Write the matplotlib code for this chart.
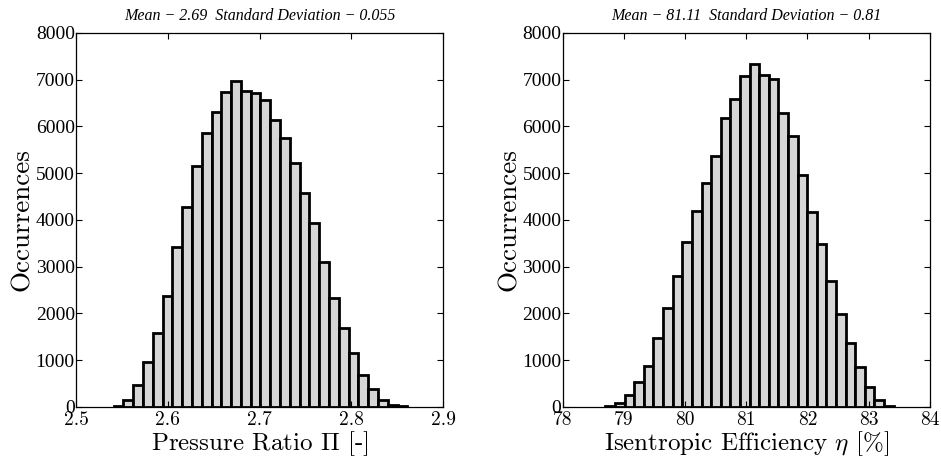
import numpy as np
import matplotlib
matplotlib.use("Agg")
from matplotlib import pyplot as plt
from matplotlib.ticker import MultipleLocator, FormatStrFormatter

plt.rcParams['mathtext.fontset'] = 'cm'
plt.rcParams['axes.unicode_minus'] = False

# histogram of pressure ratio (30 bins)
pr_range = (2.5407, 2.861)
pr_counts = [15, 150, 470, 955, 1590, 2375, 3430, 4270, 5155, 5855,
             6300, 6745, 6980, 6765, 6710, 6565, 6140, 5745, 5210, 4585,
             3930, 3110, 2325, 1680, 1150, 685, 380, 150, 45, 15]

# histogram of isentropic efficiency (30 bins)
eff_range = (78.698, 83.411)
eff_counts = [15, 80, 255, 540, 885, 1485, 2110, 2800, 3535, 4200,
              4785, 5370, 6175, 6580, 7080, 7330, 7100, 7010, 6295, 5795,
              4960, 4180, 3485, 2695, 1990, 1360, 860, 435, 150, 20]

pr_title = "Mean \u2212 2.69  Standard Deviation \u2212 0.055"
eff_title = "Mean \u2212 81.11  Standard Deviation \u2212 0.81"
pr_xlabel = r"Pressure Ratio $\Pi$ [-]"
eff_xlabel = r"Isentropic Efficiency $\eta$ [%]"
pr_xlim, pr_xstep, pr_fmt = (2.5, 2.9), 0.1, '%.1f'
eff_xlim, eff_xstep, eff_fmt = (78, 84), 1, '%d'


def draw_hist(ax, rng, counts, title, xlabel, xlim, xstep, fmt):
    edges = np.linspace(rng[0], rng[1], len(counts) + 1)
    ax.bar(edges[:-1], counts, width=np.diff(edges), align='edge',
           facecolor='#d6d6d6', edgecolor='black', linewidth=2)
    ax.set_xlim(*xlim)
    ax.set_ylim(0, 8000)
    ax.xaxis.set_major_locator(MultipleLocator(xstep))
    ax.xaxis.set_major_formatter(FormatStrFormatter(fmt))
    ax.yaxis.set_major_locator(MultipleLocator(1000))
    ax.tick_params(direction='in', top=True, right=True, length=4, width=0.8)
    ax.tick_params(axis='x', pad=3)
    ax.tick_params(axis='y', pad=1)
    for lab in ax.get_xticklabels():
        lab.set_fontfamily('cmr10')
        lab.set_fontsize(14)
    for lab in ax.get_yticklabels():
        lab.set_fontfamily('Liberation Serif')
        lab.set_fontsize(14)
    ax.set_title(title, fontsize=11.5, style='italic', family='Liberation Serif', pad=9)
    ax.set_xlabel(xlabel, fontsize=18, family='cmr10', labelpad=0)
    ax.set_ylabel("Occurrences", fontsize=19.5, family='cmr10', labelpad=1)
    for sp in ax.spines.values():
        sp.set_linewidth(0.9)


fig = plt.figure(figsize=(9.41, 4.63), dpi=100)
ax1 = fig.add_axes([0.081, 0.121, 0.39, 0.808])
ax2 = fig.add_axes([0.598, 0.121, 0.39, 0.808])

draw_hist(ax1, pr_range, pr_counts, pr_title, pr_xlabel, pr_xlim, pr_xstep, pr_fmt)
draw_hist(ax2, eff_range, eff_counts, eff_title, eff_xlabel, eff_xlim, eff_xstep, eff_fmt)

fig.savefig("out.png", dpi=100)
